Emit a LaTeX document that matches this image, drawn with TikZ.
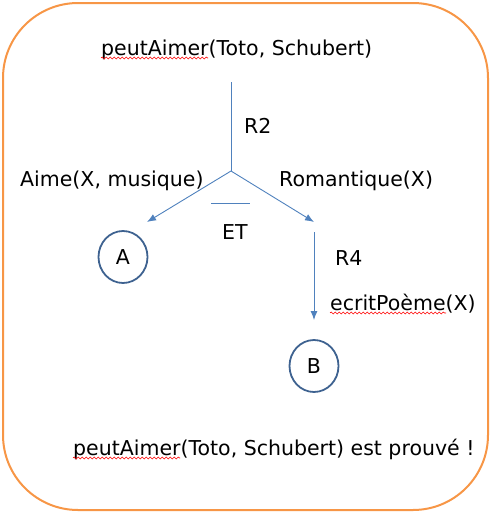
\documentclass[tikz,border=0pt]{standalone}
\usepackage{fontspec}
\setmainfont{DejaVu Sans}
\usetikzlibrary{arrows.meta,shapes.geometric,decorations.pathmorphing}
\definecolor{cadre}{HTML}{F79646}
\definecolor{fleche}{HTML}{4F81BD}
\definecolor{cercle}{HTML}{3E6290}
\tikzset{
  texte/.style={anchor=base west, inner sep=0pt},
  but/.style={ellipse, draw=cercle, line width=1.8pt, minimum width=49pt, minimum height=52pt, inner sep=0pt},
  lien/.style={fleche, line width=0.9pt},
  faute/.style={red, line width=0.6pt, decorate, decoration={snake, segment length=4pt, amplitude=1pt}}
}
\begin{document}
\begin{tikzpicture}[x=1pt, y=-1pt, font=\fontsize{20.5}{24}\selectfont, >={Latex[length=9pt,width=7pt]}]
        \useasboundingbox (0,0) rectangle (491,514);
        \draw[cadre, line width=2pt, rounded corners=75pt] (3,3) rectangle (488,510);

        \node[texte] (but) at (101,55) {peutAimer(Toto, Schubert)};
        \node[texte] (r2) at (244,133) {R2};
        \node[texte] (aime) at (20,186) {Aime(X, musique)};
        \node[texte] (roman) at (279,186) {Romantique(X)};
        \node[texte] (et) at (222,239) {ET};
        \node[texte] (r4) at (335,265) {R4};
        \node[texte] (ecrit) at (330,310) {ecritPoème(X)};
        \node[texte] (fin) at (73,455) {peutAimer(Toto, Schubert) est prouvé !};

        \node[but] (A) at (123,257) {A};
        \node[but] (B) at (314,366) {B};

        \coordinate (haut) at (231,82);
        \coordinate (noeud) at (231,171);
        \coordinate (pointeA) at (147,222);
        \coordinate (pointeR) at (314,222);
        \coordinate (departB) at (314,232);
        \coordinate (pointeB) at (314,320);
        \coordinate (barreG) at (211,203);
        \coordinate (barreD) at (250,203);

        \draw[lien] (haut) -- (noeud);
        \draw[lien][->] (noeud) -- (pointeA);
        \draw[lien][->] (noeud) -- (pointeR);
        \draw[lien] (barreG) -- (barreD);
        \draw[lien][->] (departB) -- (pointeB);

        \draw[faute] (101,58) -- (208,58);
        \draw[faute] (330,313) -- (446,313);
        \draw[faute] (73,458) -- (180,458);
\end{tikzpicture}
\end{document}
